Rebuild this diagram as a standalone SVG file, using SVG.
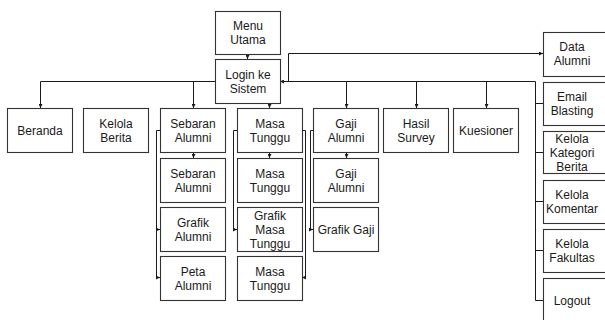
<svg xmlns="http://www.w3.org/2000/svg" width="605" height="320" viewBox="0 0 605 320">
  <style>
    .box { fill: #ffffff; stroke: #333333; stroke-width: 1.1; }
    .lbl { font-family: "Liberation Sans", Arial, sans-serif; font-size: 12px; fill: #1a1a1a; text-anchor: middle; }
    .ln { fill: none; stroke: #1a1a1a; stroke-width: 1; }
    .arr { marker-end: url(#tip); }
  </style>
  <defs>
    <marker id="tip" viewBox="0 0 6 6" refX="6" refY="3" markerWidth="4" markerHeight="4" orient="auto" markerUnits="userSpaceOnUse">
      <path d="M0,0 L6,3 L0,6 z" fill="#1a1a1a"/>
    </marker>
  </defs>
  <rect width="605" height="320" fill="#ffffff"/>

  <!-- connectors -->
  <g id="connectors">
    <line class="ln arr" x1="247.5" y1="54" x2="247.5" y2="59"/>
    <!-- main bar -->
    <polyline class="ln arr" points="215,81.5 40.5,81.5 40.5,108"/>
    <polyline class="ln arr" points="193.5,81.5 193.5,108"/>
    <line class="ln arr" x1="269.5" y1="103" x2="269.5" y2="108"/>
    <line class="ln arr" x1="535.5" y1="81.5" x2="280" y2="81.5"/>
    <line class="ln arr" x1="346.5" y1="81.5" x2="346.5" y2="108"/>
    <line class="ln arr" x1="416.5" y1="81.5" x2="416.5" y2="108"/>
    <line class="ln arr" x1="486.5" y1="81.5" x2="486.5" y2="108"/>
    <!-- Data Alumni -->
    <polyline class="ln arr" points="288.5,81.5 288.5,53.5 543,53.5"/>
    <!-- right column -->
    <polyline class="ln" points="535.5,81.5 535.5,300.5 543,300.5"/>
    <line class="ln" x1="535.5" y1="103.5" x2="543" y2="103.5"/>
    <line class="ln" x1="535.5" y1="152.5" x2="543" y2="152.5"/>
    <line class="ln" x1="535.5" y1="201.5" x2="543" y2="201.5"/>
    <line class="ln" x1="535.5" y1="250.5" x2="543" y2="250.5"/>
    <!-- Sebaran column -->
    <line class="ln arr" x1="193.5" y1="152" x2="193.5" y2="158"/>
    <polyline class="ln" points="160,130.5 156.5,130.5 156.5,277.5"/>
    <line class="ln arr" x1="156.5" y1="229.5" x2="160" y2="229.5"/>
    <line class="ln arr" x1="156.5" y1="277.5" x2="160" y2="277.5"/>
    <!-- Masa Tunggu column -->
    <line class="ln arr" x1="269.5" y1="152" x2="269.5" y2="158"/>
    <polyline class="ln arr" points="237,130.5 233.5,130.5 233.5,229.5 237,229.5"/>
    <polyline class="ln arr" points="302,130.5 305.5,130.5 305.5,277.5 302,277.5"/>
    <!-- Gaji column -->
    <line class="ln arr" x1="346.5" y1="152" x2="346.5" y2="158"/>
    <polyline class="ln arr" points="313,130.5 310.5,130.5 310.5,229.5 313,229.5"/>
  </g>

  <g id="menu-utama"><rect class="box" x="215.5" y="11.5" width="65" height="43"/>
    <text class="lbl" x="248" y="29.5">Menu</text><text class="lbl" x="248" y="43.5">Utama</text></g>
  <g id="login"><rect class="box" x="215.5" y="59.5" width="65" height="44"/>
    <text class="lbl" x="248" y="78.5">Login ke</text><text class="lbl" x="248" y="92.5">Sistem</text></g>

  <g id="beranda"><rect class="box" x="7.5" y="108.5" width="65" height="44"/>
    <text class="lbl" x="40" y="134.5">Beranda</text></g>
  <g id="kelola-berita"><rect class="box" x="83.5" y="108.5" width="65" height="44"/>
    <text class="lbl" x="116" y="127.5">Kelola</text><text class="lbl" x="116" y="141.5">Berita</text></g>
  <g id="sebaran-alumni"><rect class="box" x="160.5" y="108.5" width="65" height="44"/>
    <text class="lbl" x="193" y="127.5">Sebaran</text><text class="lbl" x="193" y="141.5">Alumni</text></g>
  <g id="masa-tunggu"><rect class="box" x="237.5" y="108.5" width="65" height="44"/>
    <text class="lbl" x="270" y="127.5">Masa</text><text class="lbl" x="270" y="141.5">Tunggu</text></g>
  <g id="gaji-alumni"><rect class="box" x="313.5" y="108.5" width="65" height="44"/>
    <text class="lbl" x="346" y="127.5">Gaji</text><text class="lbl" x="346" y="141.5">Alumni</text></g>
  <g id="hasil-survey"><rect class="box" x="383.5" y="108.5" width="65" height="44"/>
    <text class="lbl" x="416" y="127.5">Hasil</text><text class="lbl" x="416" y="141.5">Survey</text></g>
  <g id="kuesioner"><rect class="box" x="453.5" y="108.5" width="65" height="44"/>
    <text class="lbl" x="486" y="134.5">Kuesioner</text></g>

  <g id="sebaran-alumni-2"><rect class="box" x="160.5" y="158.5" width="65" height="44"/>
    <text class="lbl" x="193" y="177.5">Sebaran</text><text class="lbl" x="193" y="191.5">Alumni</text></g>
  <g id="grafik-alumni"><rect class="box" x="160.5" y="207.5" width="65" height="44"/>
    <text class="lbl" x="193" y="226.5">Grafik</text><text class="lbl" x="193" y="240.5">Alumni</text></g>
  <g id="peta-alumni"><rect class="box" x="160.5" y="256.5" width="65" height="44"/>
    <text class="lbl" x="193" y="275.5">Peta</text><text class="lbl" x="193" y="289.5">Alumni</text></g>

  <g id="masa-tunggu-2"><rect class="box" x="237.5" y="158.5" width="65" height="44"/>
    <text class="lbl" x="270" y="177.5">Masa</text><text class="lbl" x="270" y="191.5">Tunggu</text></g>
  <g id="grafik-masa-tunggu"><rect class="box" x="237.5" y="207.5" width="65" height="44"/>
    <text class="lbl" x="270" y="219.5">Grafik</text><text class="lbl" x="270" y="233.5">Masa</text><text class="lbl" x="270" y="247.5">Tunggu</text></g>
  <g id="masa-tunggu-3"><rect class="box" x="237.5" y="256.5" width="65" height="44"/>
    <text class="lbl" x="270" y="275.5">Masa</text><text class="lbl" x="270" y="289.5">Tunggu</text></g>

  <g id="gaji-alumni-2"><rect class="box" x="313.5" y="158.5" width="65" height="44"/>
    <text class="lbl" x="346" y="177.5">Gaji</text><text class="lbl" x="346" y="191.5">Alumni</text></g>
  <g id="grafik-gaji"><rect class="box" x="313.5" y="207.5" width="65" height="44"/>
    <text class="lbl" x="346" y="233.5">Grafik Gaji</text></g>

  <g id="data-alumni"><rect class="box" x="543.5" y="32.5" width="64" height="44"/>
    <text class="lbl" x="572" y="51">Data</text><text class="lbl" x="572" y="65">Alumni</text></g>
  <g id="email-blasting"><rect class="box" x="543.5" y="82.5" width="64" height="43"/>
    <text class="lbl" x="572" y="100.5">Email</text><text class="lbl" x="572" y="114.5">Blasting</text></g>
  <g id="kelola-kategori-berita"><rect class="box" x="543.5" y="131.5" width="64" height="42"/>
    <text class="lbl" x="572" y="142.5">Kelola</text><text class="lbl" x="572" y="156.5">Kategori</text><text class="lbl" x="572" y="170.5">Berita</text></g>
  <g id="kelola-komentar"><rect class="box" x="543.5" y="180.5" width="64" height="43"/>
    <text class="lbl" x="572" y="198.5">Kelola</text><text class="lbl" x="572" y="212.5">Komentar</text></g>
  <g id="kelola-fakultas"><rect class="box" x="543.5" y="229.5" width="64" height="43"/>
    <text class="lbl" x="572" y="247.5">Kelola</text><text class="lbl" x="572" y="261.5">Fakultas</text></g>
  <g id="logout"><rect class="box" x="543.5" y="278.5" width="64" height="45"/>
    <text class="lbl" x="572" y="304.5">Logout</text></g>
</svg>
